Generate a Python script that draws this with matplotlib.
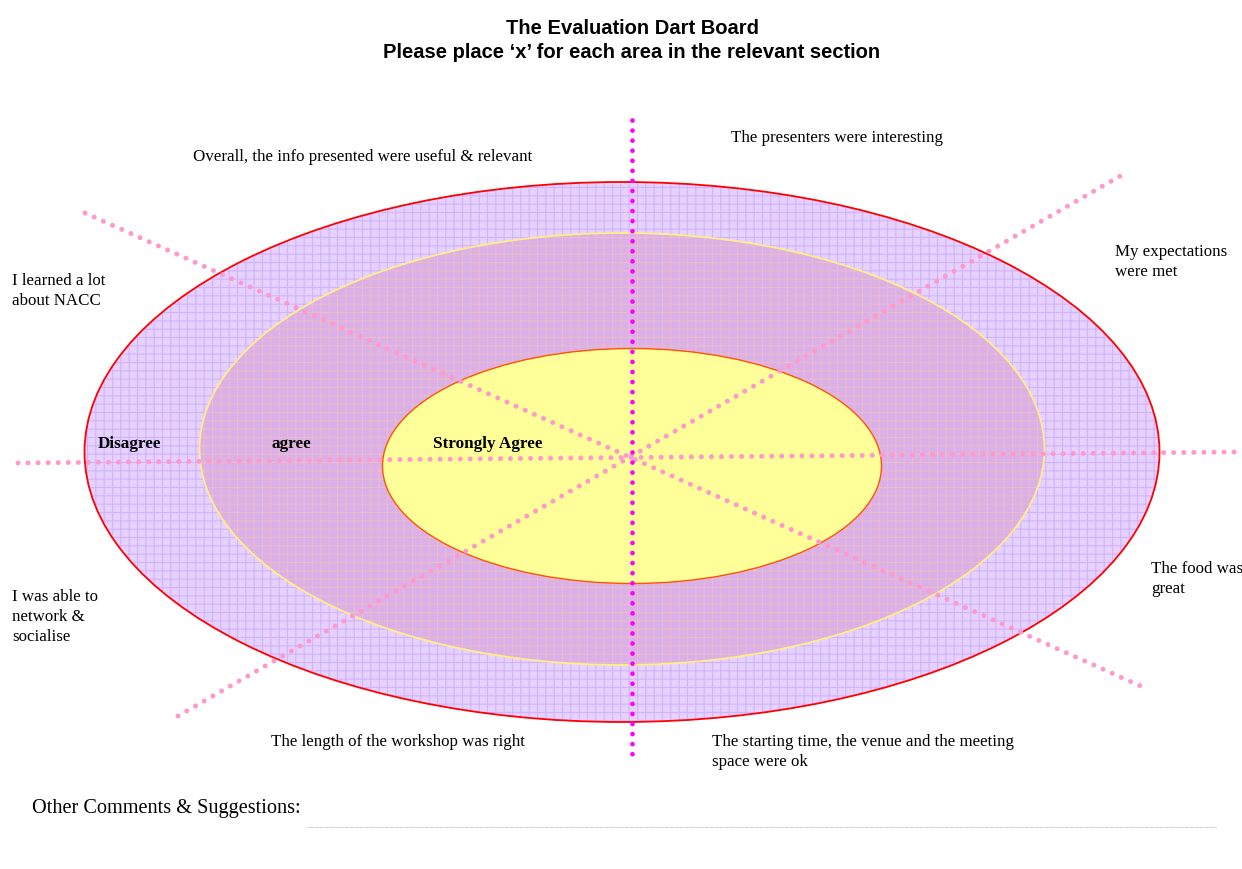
import numpy as np
import matplotlib
matplotlib.use("Agg")
import matplotlib.pyplot as plt
from matplotlib.patches import Ellipse

############################### DATA #################################

title_lines = ["The Evaluation Dart Board",
               "Please place \u2018x\u2019 for each area in the relevant section"]

# the statements around the board
statements = ["Overall, the info presented were useful & relevant",
              "The presenters were interesting",
              "My expectations\nwere met",
              "I learned a lot\nabout NACC",
              "The food was\ngreat",
              "I was able to\nnetwork &\nsocialise",
              "The length of the workshop was right",
              "The starting time, the venue and the meeting\nspace were ok"]

# rings from outside to inside
zones = ["Disagree", "agree", "Strongly Agree"]

comments_label = "Other Comments & Suggestions:"

############################### LAYOUT ###############################

W, H = 1242, 869   # work in pixels, y down

# where each statement sits (left edge, vertical centre of the block)
statement_xy = [(193, 157), (731, 138), (1115, 262), (12, 291),
                (1151, 579), (12, 617), (271, 742), (712, 752)]

zone_xy = [(98, 444), (271, 444), (433, 444)]

# rings: centre, width, height, fill, grid colour, edge colour, edge width
rings = [((622, 452), 1075, 540, "#e6d2ff", "#d3b2ff", "#ff0000", 1.3),
         ((622, 449), 845, 432, "#dbb0ea", "#e9bcc8", "#ffee88", 1.3),
         ((632, 466), 499, 235, "#ffff99", None, "#ff5500", 1.0)]

# the spokes (start and end points)
spokes = [((18, 463), (1240, 452)),
          ((85, 213), (1145, 688)),
          ((178, 716), (1122, 175))]
vertical = ((632, 120), (632, 762))

############################### DRAW #################################

plt.rcParams['hatch.linewidth'] = 0.8
serif = ["Liberation Serif", "DejaVu Serif"]
sans = ["Liberation Sans", "DejaVu Sans"]

fig = plt.figure(figsize=(W/100, H/100), dpi=100)
ax = fig.add_axes([0, 0, 1, 1])
ax.set_xlim(0, W)
ax.set_ylim(H, 0)
ax.axis('off')

for centre, w, h, fill, grid, edge, lw in rings:
    # fill with a fine grid, then the outline on top
    if grid:
        ax.add_patch(Ellipse(centre, w, h, facecolor=fill, edgecolor=grid,
                             linewidth=0, hatch='++', zorder=1))
    else:
        ax.add_patch(Ellipse(centre, w, h, facecolor=fill, linewidth=0, zorder=1))
    ax.add_patch(Ellipse(centre, w, h, fill=False, edgecolor=edge,
                         linewidth=lw, zorder=2))

for (x0, y0), (x1, y1) in spokes:
    ax.plot([x0, x1], [y0, y1], color="#ff99cc", linewidth=3.6,
            linestyle=(0, (0.01, 2.0)), dash_capstyle='round', zorder=3)

(x0, y0), (x1, y1) = vertical
ax.plot([x0, x1], [y0, y1], color="#ff00ff", linewidth=3.4,
        linestyle=(0, (0.01, 2.12)), dash_capstyle='round', zorder=4)

for name, (x, y) in zip(zones, zone_xy):
    ax.text(x, y, name, family=serif, fontsize=12.3, fontweight='bold',
            ha='left', va='center', zorder=5)

for s, (x, y) in zip(statements, statement_xy):
    ax.text(x, y, s, family=serif, fontsize=12.2, ha='left', va='center',
            linespacing=1.35, zorder=5)

ax.text(632, 28, title_lines[0], family=sans, fontsize=14.5, fontweight='bold',
        ha='center', va='center')
ax.text(632, 52, title_lines[1], family=sans, fontsize=14.5, fontweight='bold',
        ha='center', va='center')

ax.text(32, 809, comments_label, family=serif, fontsize=14.6, ha='left', va='center')
ax.plot([307, 1217], [827, 827], color="#777777", linewidth=0.6,
        linestyle=(0, (0.5, 1.0)))

fig.savefig("out.png", dpi=100)
